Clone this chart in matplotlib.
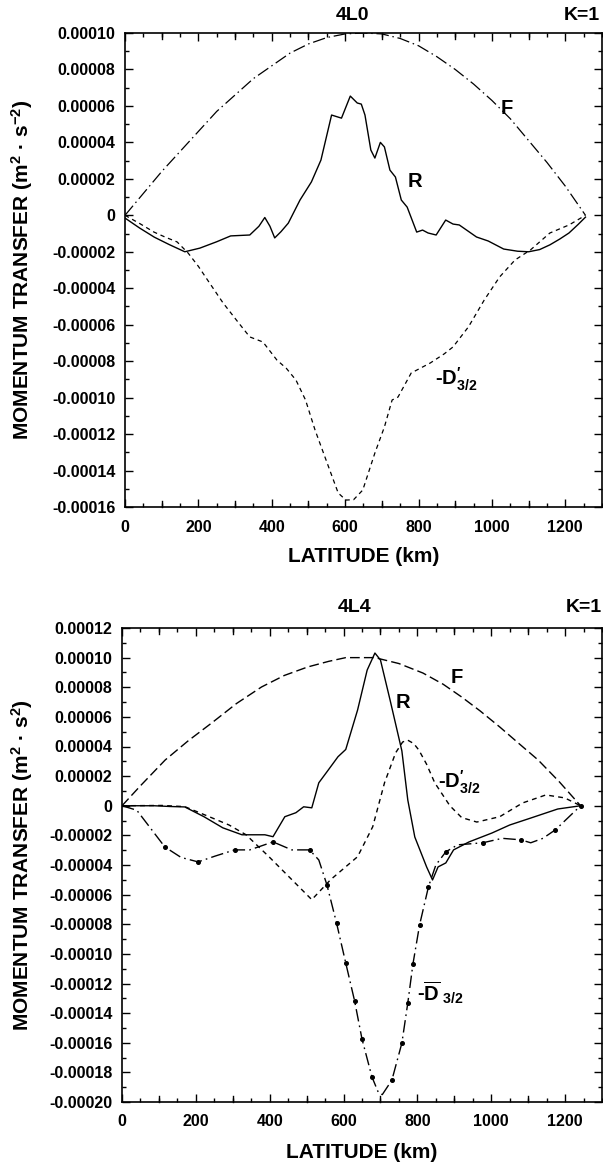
import numpy as np
import matplotlib
matplotlib.use("Agg")
import matplotlib.pyplot as plt
from matplotlib.ticker import MultipleLocator, FuncFormatter

plt.rcParams['font.family'] = ['Liberation Sans', 'DejaVu Sans']
plt.rcParams['mathtext.fontset'] = 'custom'
plt.rcParams['mathtext.rm'] = 'Liberation Sans:bold'
plt.rcParams['mathtext.bf'] = 'Liberation Sans:bold'
plt.rcParams['mathtext.it'] = 'Liberation Sans:bold'

# ---------------- data: panel 4L0 ----------------
f_top_x = [0, 50, 100, 150, 200, 250, 300, 350, 400, 450, 500, 550, 600, 650,
           700, 750, 800, 850, 900, 950, 1000, 1050, 1100, 1150, 1200, 1255]
f_top_y = [0, 1.2, 2.4, 3.5, 4.6, 5.7, 6.6, 7.5, 8.2, 8.9, 9.4, 9.75, 9.95, 10.0,
           9.95, 9.7, 9.3, 8.7, 8.0, 7.2, 6.3, 5.3, 4.1, 2.9, 1.6, 0]

r_top_x = [0, 40, 80, 120, 163, 204, 250, 288, 340, 365, 381, 395, 408, 425, 445,
           477, 508, 534, 563, 590, 614, 633, 644, 654, 670, 681, 696, 707, 722,
           737, 753, 769, 795, 811, 826, 848, 874, 894, 911, 958, 990, 1032, 1070,
           1100, 1130, 1158, 1185, 1210, 1235, 1255]
r_top_y = [-0.15, -0.7, -1.2, -1.6, -2.0, -1.8, -1.45, -1.13, -1.08, -0.6, -0.12,
           -0.6, -1.24, -0.9, -0.43, 0.84, 1.83, 3.03, 5.5, 5.33, 6.54, 6.16, 6.1,
           5.5, 3.58, 3.14, 4.0, 3.75, 2.48, 2.1, 0.84, 0.45, -0.92, -0.81, -0.97,
           -1.08, -0.26, -0.48, -0.53, -1.19, -1.41, -1.85, -1.97, -2.0, -1.88,
           -1.62, -1.3, -0.97, -0.5, -0.1]

d_top_x = [0, 40, 79, 110, 142, 172, 200, 225, 267, 310, 340, 376, 414, 440, 466,
           492, 518, 555, 581, 602, 623, 648, 681, 707, 728, 744, 780, 832, 870,
           894, 936, 979, 1021, 1063, 1105, 1158, 1210, 1255]
d_top_y = [0, -0.45, -0.92, -1.2, -1.46, -2.07, -2.8, -3.55, -4.8, -5.91, -6.67,
           -6.95, -7.94, -8.4, -9.04, -10.13, -11.78, -13.81, -15.23, -15.62, -15.6,
           -15.07, -13.04, -11.61, -10.13, -9.97, -8.65, -8.1, -7.6, -7.22, -6.12,
           -4.65, -3.38, -2.45, -1.9, -0.97, -0.53, 0]

# ---------------- data: panel 4L4 ----------------
f_bot_x = [0, 50, 117, 180, 243, 310, 378, 440, 503, 560, 606, 650, 685, 750, 815,
           870, 920, 970, 1023, 1075, 1127, 1185, 1242]
f_bot_y = [0, 1.35, 3.09, 4.4, 5.59, 6.9, 8.02, 8.8, 9.37, 9.75, 10.0, 10.0, 10.0,
           9.6, 8.96, 8.2, 7.34, 6.4, 5.32, 4.2, 3.09, 1.6, 0]

r_bot_x = [0, 87, 130, 170, 222, 273, 325, 387, 409, 441, 471, 492, 514, 533, 555,
           585, 606, 638, 664, 685, 700, 726, 758, 774, 793, 825, 841, 856, 877, 898,
           940, 1002, 1050, 1107, 1180, 1242]
r_bot_y = [0, 0, -0.05, -0.08, -0.74, -1.49, -1.96, -1.96, -2.09, -0.74, -0.47,
           -0.07, -0.14, 1.55, 2.29, 3.31, 3.8, 6.46, 9.16, 10.31, 9.84, 7.14, 3.7,
           0.39, -2.11, -4.13, -5.01, -4.13, -3.86, -2.98, -2.44, -1.84, -1.3, -0.83,
           -0.22, 0]

dp_bot_x = [0, 108, 170, 243, 290, 336, 398, 460, 514, 565, 638, 679, 711, 741,
            760, 773, 790, 804, 825, 847, 888, 920, 961, 1023, 1085, 1148, 1199, 1242]
dp_bot_y = [0, 0.02, -0.06, -0.81, -1.3, -1.96, -3.44, -4.99, -6.34, -4.99, -3.44,
            -1.42, 1.55, 3.57, 4.3, 4.44, 4.2, 3.76, 2.8, 1.55, 0.0, -0.8, -1.1,
            -0.74, 0.19, 0.73, 0.53, 0]

db_bot_x = [0, 40, 116, 160, 206, 252, 305, 346, 409, 441, 460, 508, 533, 555, 581,
            606, 630, 650, 677, 695, 705, 731, 758, 774, 788, 806, 830, 850, 877,
            909, 977, 1030, 1080, 1107, 1140, 1174, 1242]
db_bot_y = [0, -0.3, -2.78, -3.49, -3.79, -3.4, -2.98, -2.98, -2.44, -2.78, -2.98,
            -2.98, -3.66, -5.34, -7.91, -10.62, -13.18, -15.75, -18.31, -19.4, -19.5,
            -18.52, -16.02, -13.32, -10.68, -8.04, -5.47, -4.0, -3.11, -2.64, -2.5,
            -2.2, -2.3, -2.5, -2.2, -1.62, 0]
db_mark_x = [116, 206, 305, 409, 508, 555, 581, 606, 630, 650, 677, 731, 758, 774,
             788, 806, 830, 877, 977, 1080, 1174, 1242]

SC = 1e-5

fig = plt.figure(figsize=(6.03, 11.64), dpi=100)
ax1 = fig.add_axes([125/603, 1 - 507/1164, 477/603, 474/1164])
ax2 = fig.add_axes([122/603, 1 - 1102/1164, 480/603, 474/1164])

def fmt(v, pos):
    if abs(v) < 1e-12:
        return "0"
    return "%.5f" % v

def style(ax, ylo, yhi, ylabel, ylab_x):
    ax.set_xlim(0, 1300)
    ax.set_ylim(ylo, yhi)
    ax.xaxis.set_major_locator(MultipleLocator(200))
    ax.xaxis.set_minor_locator(MultipleLocator(50))
    ax.yaxis.set_major_locator(MultipleLocator(2e-5))
    ax.yaxis.set_minor_locator(MultipleLocator(1e-5))
    ax.yaxis.set_major_formatter(FuncFormatter(fmt))
    ax.tick_params(which='both', direction='in', top=True, right=True,
                   labelsize=11.5, width=1.0, colors='black')
    ax.tick_params(which='major', length=6)
    ax.tick_params(which='minor', length=3)
    ax.tick_params(axis='x', which='major', pad=9)
    ax.tick_params(axis='y', which='major', pad=7)
    for lab in ax.get_xticklabels() + ax.get_yticklabels():
        lab.set_fontweight('bold')
    # 100-km ticks are longer than the 50-km ones
    for x in range(100, 1300, 200):
        ax.plot([x, x], [ylo, ylo + (yhi - ylo) * 6/474], color='black', lw=1.0,
                clip_on=False, zorder=5)
        ax.plot([x, x], [yhi, yhi - (yhi - ylo) * 6/474], color='black', lw=1.0,
                clip_on=False, zorder=5)
    for sp in ax.spines.values():
        sp.set_linewidth(1.2)
    ax.set_xlabel("LATITUDE (km)", fontsize=15, fontweight='bold')
    ax.xaxis.set_label_coords(0.5, -50/474)
    ax.xaxis.label.set_va('center')
    ax.set_ylabel(ylabel, fontsize=15, fontweight='bold')
    ax.yaxis.set_label_coords(ylab_x, 0.5)
    ax.yaxis.label.set_va('center')

style(ax1, -16e-5, 10e-5, r"MOMENTUM TRANSFER (m$^{\mathbf{2}}$ · s$^{\mathbf{-2}}$)",
      (22 - 125)/477)
style(ax2, -20e-5, 12e-5, r"MOMENTUM TRANSFER (m$^{\mathbf{2}}$ · s$^{\mathbf{2}}$)",
      (22 - 122)/480)

# titles
fig.text(353/603, 1 - 16/1164, "4L0", ha='center', va='center', fontsize=14, fontweight='bold')
fig.text(564/603, 1 - 16/1164, "K=1", ha='left', va='center', fontsize=14, fontweight='bold')
fig.text(355/603, 1 - 608/1164, "4L4", ha='center', va='center', fontsize=14, fontweight='bold')
fig.text(566/603, 1 - 608/1164, "K=1", ha='left', va='center', fontsize=14, fontweight='bold')

LAB = 14.5

# ---- top panel curves
ax1.plot(f_top_x, np.array(f_top_y)*SC, color='black', lw=0.9, dashes=(10, 3, 1.2, 3))
ax1.plot(r_top_x, np.array(r_top_y)*SC, color='black', lw=1.0)
ax1.plot(d_top_x, np.array(d_top_y)*SC, color='black', lw=0.9, dashes=(3.5, 3))

ax1.text(1025, 5.88e-5, "F", fontsize=LAB, fontweight='bold', va='center', ha='left')
ax1.text(771, 1.83e-5, "R", fontsize=LAB, fontweight='bold', va='center', ha='left')
ax1.text(845, -9.0e-5, r"-D$^{\prime}_{\mathbf{3/2}}$", fontsize=LAB, fontweight='bold',
         va='center', ha='left')

# ---- bottom panel curves
ax2.plot(f_bot_x, np.array(f_bot_y)*SC, color='black', lw=1.0, dashes=(7, 3))
ax2.plot(r_bot_x, np.array(r_bot_y)*SC, color='black', lw=1.0)
ax2.plot(dp_bot_x, np.array(dp_bot_y)*SC, color='black', lw=1.0, dashes=(3.5, 3))
mk = [i for i, x in enumerate(db_bot_x) if x in db_mark_x]
ax2.plot(db_bot_x, np.array(db_bot_y)*SC, color='black', lw=1.0, dashes=(9, 3, 1.2, 3),
         marker='o', markersize=2.6, markevery=mk)

ax2.text(891, 8.69e-5, "F", fontsize=LAB, fontweight='bold', va='center', ha='left')
ax2.text(741, 6.94e-5, "R", fontsize=LAB, fontweight='bold', va='center', ha='left')
ax2.text(855, 1.6e-5, r"-D$^{\prime}_{\mathbf{3/2}}$", fontsize=LAB, fontweight='bold',
         va='center', ha='left')
ax2.text(800, -12.65e-5, r"-$\overline{\mathbf{D}}$$_{\mathbf{\ 3/2}}$", fontsize=LAB,
         fontweight='bold', va='center', ha='left')

fig.savefig("out.png", dpi=100)
